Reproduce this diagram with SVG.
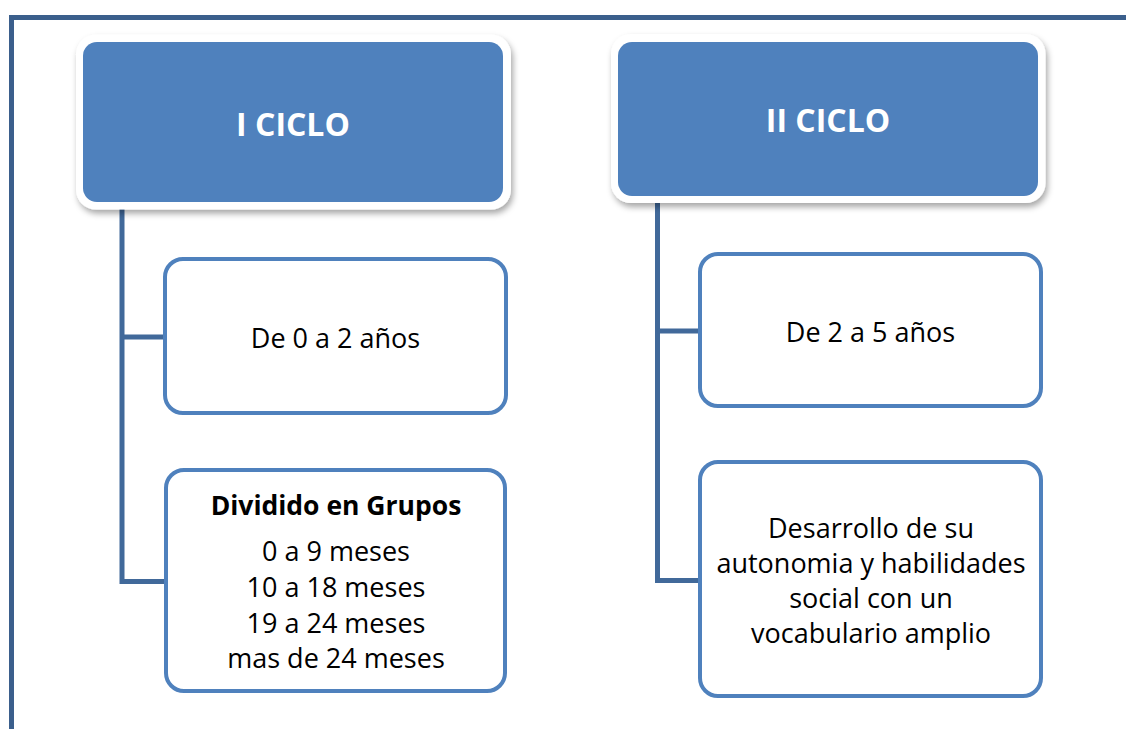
<svg xmlns="http://www.w3.org/2000/svg" width="1126" height="729" viewBox="0 0 1126 729">
  <defs>
    <filter id="shadow" x="-10%" y="-10%" width="125%" height="130%">
      <feDropShadow dx="2" dy="4" stdDeviation="3" flood-color="#000" flood-opacity="0.35"/>
    </filter>
    <style>
      .frame{fill:none;stroke:#3b5f8c;stroke-width:5}
      .conn{fill:none;stroke:#41699a;stroke-width:5}
      .hdr-out{fill:#fff}
      .hdr{fill:#4f81bd}
      .box{fill:#fff;stroke:#4f81bd;stroke-width:4}
      .htxt{font-family:"Open Sans","Liberation Sans",sans-serif;font-weight:bold;font-size:32px;fill:#fff;text-anchor:middle}
      .txt{font-family:"Open Sans","Liberation Sans",sans-serif;font-size:27px;fill:#000;text-anchor:middle}
      .bold{font-weight:bold;font-size:26.5px}
    </style>
  </defs>
  <rect width="1126" height="729" fill="#fff"/>
  <path class="frame" d="M11.5 729 V17.5 H1126"/>

  <g id="connectors">
    <path class="conn" d="M122 206 V584"/>
    <path class="conn" d="M122 337 H164"/>
    <path class="conn" d="M120 581.5 H165"/>
    <path class="conn" d="M657.5 200 V583"/>
    <path class="conn" d="M657.5 331 H699"/>
    <path class="conn" d="M655 580.5 H699"/>
  </g>

  <g id="ciclo1">
    <rect class="hdr-out" x="76" y="34.5" width="435" height="175" rx="20" filter="url(#shadow)"/>
    <rect class="hdr" x="83" y="42" width="420" height="160" rx="14"/>
    <text class="htxt" x="293" y="136">I CICLO</text>
  </g>

  <g id="ciclo2">
    <rect class="hdr-out" x="611" y="34" width="434.5" height="169" rx="20" filter="url(#shadow)"/>
    <rect class="hdr" x="618" y="42" width="420" height="154" rx="14"/>
    <text class="htxt" x="828" y="132">II CICLO</text>
  </g>

  <g id="edad1">
    <rect class="box" x="165" y="259" width="341" height="154" rx="18"/>
    <text class="txt" x="335.5" y="348">De 0 a 2 años</text>
  </g>

  <g id="grupos">
    <rect class="box" x="166" y="470" width="339" height="221" rx="18"/>
    <text class="txt bold" x="336" y="515">Dividido en Grupos</text>
    <text class="txt" x="336" y="561">0 a 9 meses</text>
    <text class="txt" x="336" y="597">10 a 18 meses</text>
    <text class="txt" x="336" y="633">19 a 24 meses</text>
    <text class="txt" x="336" y="668">mas de 24 meses</text>
  </g>

  <g id="edad2">
    <rect class="box" x="700" y="254" width="341" height="152" rx="18"/>
    <text class="txt" x="870.5" y="342">De 2 a 5 años</text>
  </g>

  <g id="desarrollo">
    <rect class="box" x="700" y="462" width="341" height="234" rx="18"/>
    <text class="txt" x="871" y="538">Desarrollo de su</text>
    <text class="txt" x="871" y="573">autonomia y habilidades</text>
    <text class="txt" x="871" y="608">social con un</text>
    <text class="txt" x="871" y="643">vocabulario amplio</text>
  </g>
</svg>
